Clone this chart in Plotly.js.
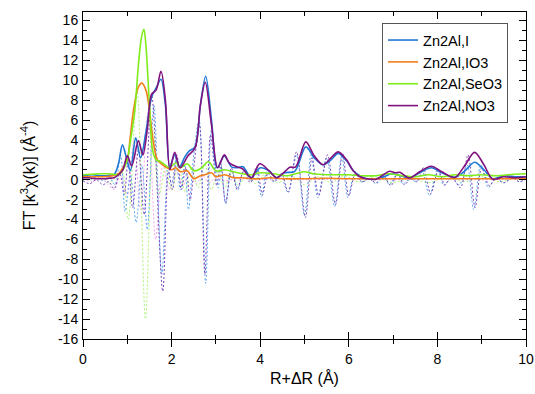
<!DOCTYPE html>
<html><head><meta charset="utf-8">
<script src="https://cdn.plot.ly/plotly-3.0.1.min.js"></script>
<style>html,body{margin:0;padding:0;background:#fff}#c{width:535px;height:394px}</style>
</head><body><div id="c"></div>
<script>
// ---- Data ----
const seriesNames = ["Zn2Al,I", "Zn2Al,IO3", "Zn2Al,SeO3", "Zn2Al,NO3"];

// Magnitudes |FT|
const rI   = [0,0.1,0.2,0.3,0.4,0.5,0.6,0.7,0.8,0.89,0.98,1.07,1.19,1.3,1.42,1.55,1.66,1.76,1.86,1.96,2.07,2.18,2.3,2.4,2.53,2.65,2.77,2.9,3.03,3.19,3.35,3.47,3.61,3.8,4.0,4.2,4.37,4.55,4.78,5.03,5.22,5.42,5.6,5.76,5.95,6.1,6.25,6.4,6.62,6.85,6.95,7.1,7.37,7.6,7.86,8.1,8.39,8.6,8.84,9.05,9.25,9.5,9.75,10];
const magI = [0.4,0.45,0.5,0.45,0.4,0.4,0.45,0.5,1.6,3.5,2.2,0.9,4.2,2.2,4.8,8.3,9.3,10.1,7.5,1.3,2.5,1.3,2.3,2.9,3.3,7.5,10.4,6.0,1.2,2.4,1.3,1.2,1.3,0.2,1.2,0.9,0.2,0.7,0.85,3.3,2.2,1.5,2.0,2.65,1.9,0.9,0.4,0.1,0.1,0.4,0.6,0.5,0.2,0.7,1.2,0.7,0.25,0.8,1.75,1.0,0.1,0.4,0.3,0.3];

const rIO3   = [0,0.2,0.4,0.6,0.8,0.9,1.0,1.06,1.14,1.25,1.33,1.42,1.5,1.58,1.68,1.8,1.9,2.0,2.1,2.2,2.35,2.5,2.65,2.75,2.9,3.0,3.2,3.4,3.6,3.8,4.0,4.2,4.5,5.0,5.5,6.0,6.5,7.0,7.5,8.0,8.5,9.0,9.5,10];
const magIO3 = [0.3,0.3,0.3,0.35,0.6,1.2,2.0,4.0,7.0,9.3,9.7,9.0,7.0,4.0,2.0,1.5,1.2,1.0,1.2,0.8,0.9,0.1,0.4,0.5,0.7,0.3,0.5,0.2,0.2,0.1,0.1,0.2,0.1,0.1,0.15,0.1,0.1,0.1,0.1,0.1,0.1,0.1,0.1,0.1];

const rSeO3   = [0,0.2,0.4,0.6,0.8,0.9,1.0,1.06,1.17,1.25,1.32,1.375,1.42,1.5,1.57,1.65,1.72,1.85,1.95,2.1,2.2,2.35,2.5,2.65,2.83,3.0,3.2,3.4,3.6,3.8,4.0,4.3,4.6,4.8,5.0,5.2,5.5,5.8,6.0,6.3,6.6,6.9,7.2,7.5,7.8,8.1,8.4,8.7,9.0,9.3,9.6,10];
const magSeO3 = [0.5,0.55,0.6,0.6,0.5,1.0,2.0,3.6,7.0,11.5,14.3,15.1,13.5,7.5,3.0,2.0,1.9,1.5,1.2,1.7,1.2,1.6,0.9,1.1,1.8,0.9,1.0,0.8,0.6,0.5,0.7,0.6,0.4,0.6,0.8,0.6,0.5,0.5,0.5,0.4,0.4,0.6,0.4,0.3,0.5,0.3,0.5,0.4,0.5,0.4,0.5,0.6];

const rNO3   = [0,0.1,0.2,0.3,0.4,0.5,0.6,0.7,0.8,0.9,1.0,1.1,1.25,1.35,1.45,1.55,1.65,1.76,1.86,1.96,2.07,2.19,2.37,2.53,2.65,2.76,2.9,3.04,3.19,3.3,3.47,3.6,3.8,3.99,4.2,4.37,4.55,4.67,4.8,5.03,5.22,5.42,5.6,5.76,5.95,6.1,6.25,6.4,6.62,6.78,6.92,7.05,7.15,7.37,7.6,7.86,8.1,8.39,8.6,8.84,9.05,9.25,9.5,9.75,10];
const magNO3 = [0.2,0.2,0.15,0.1,0.1,0.1,0.15,0.2,0.5,1.0,2.4,1.4,3.9,2.5,5.0,8.6,9.0,10.9,8.0,1.0,2.75,1.2,2.4,3.2,7.5,9.8,5.5,1.2,2.5,1.7,1.3,1.1,0.2,1.6,0.9,0.2,0.8,1.25,1.3,3.8,2.4,1.5,2.2,2.8,2.0,0.9,0.3,0.1,0.05,0.5,0.85,0.7,0.75,0.17,0.8,1.35,0.8,0.23,1.3,2.75,1.5,0.05,0.3,0.2,0.3];

// Real parts (dashed)
const rReI  = [0,0.15,0.3,0.45,0.6,0.72,0.85,0.95,1.07,1.2,1.33,1.45,1.6,1.78,1.92,2.0,2.1,2.2,2.3,2.38,2.5,2.62,2.77,2.9,3.05,3.12,3.22,3.35,3.5,3.63,3.8,3.9,4.03,4.15,4.3,4.45,4.63,4.82,5.0,5.15,5.3,5.5,5.68,5.84,5.98,6.14,6.3,6.45,6.62,6.78,6.92,7.08,7.22,7.38,7.52,7.65,7.82,8.0,8.15,8.3,8.5,8.67,8.82,8.98,9.15,9.3,9.5,9.7,9.85,10];
const reI   = [0.2,0.0,0.3,-0.1,0.2,-0.5,2.5,-3.2,0.5,-4.3,1.5,-5.0,7.5,-9.5,1.0,-0.5,2.0,-1.0,1.5,-3.0,2.5,6.0,-10.4,5.0,-0.8,1.5,-2.45,1.0,-1.0,1.0,-0.2,1.0,-1.7,0.8,-0.2,0.5,-1.3,2.5,-3.6,2.5,-1.8,2.2,-2.7,2.4,-1.8,0.8,-0.3,0.1,-0.4,0.3,-0.5,0.5,-0.4,0.1,-0.2,1.0,-1.6,1.0,-0.6,0.2,-0.5,1.5,-3.0,1.5,-0.8,0.1,-0.3,0.2,-0.2,0.1];

const rReNO3 = [0,0.15,0.3,0.45,0.58,0.7,0.83,0.93,1.02,1.12,1.25,1.38,1.55,1.8,1.93,2.02,2.12,2.22,2.32,2.42,2.52,2.63,2.75,2.88,3.02,3.1,3.22,3.35,3.48,3.62,3.78,3.92,4.05,4.18,4.32,4.48,4.63,4.82,5.02,5.17,5.32,5.52,5.7,5.86,6.0,6.15,6.3,6.45,6.62,6.78,6.95,7.1,7.25,7.4,7.55,7.68,7.85,8.02,8.17,8.32,8.52,8.69,8.85,9.0,9.17,9.32,9.5,9.7,9.85,10];
const reNO3  = [-0.1,-0.4,0.0,-0.5,-0.2,-0.9,0.6,-1.5,2.0,-2.8,3.0,-3.5,8.5,-11.2,0.8,-1.0,2.5,-1.0,1.2,-2.0,2.0,5.5,-9.5,4.5,-0.6,1.8,-2.3,1.2,-1.0,0.8,-0.3,1.3,-1.5,0.7,-0.2,0.6,-1.2,2.8,-3.8,2.2,-1.6,2.5,-2.5,2.6,-1.6,0.6,-0.2,0.1,-0.3,0.4,-0.6,0.6,-0.5,0.1,-0.2,1.2,-1.4,0.9,-0.5,0.3,-0.8,2.5,-2.8,1.2,-0.6,0.1,-0.3,0.2,-0.2,0.1];

const rReSeO3 = [0,0.2,0.4,0.6,0.75,0.88,1.02,1.22,1.41,1.58,1.72,1.86,2.0,2.15,2.3,2.45,2.6,2.75,2.9,3.05,3.2,3.35,3.5,3.7,3.9,4.1,4.4,4.7,5.0,5.3,5.6,5.9,6.2,6.6,7.0,7.4,7.8,8.2,8.6,9.0,9.4,9.8,10];
const reSeO3  = [0.3,0.0,0.4,-0.3,0.3,0.8,-4.0,9.0,-14.0,5.0,-1.5,1.2,-1.0,1.5,-1.2,1.2,-0.8,1.5,-1.0,0.8,-0.8,0.7,-0.6,0.5,-0.4,0.5,-0.3,0.4,-0.5,0.3,-0.3,0.4,-0.2,0.3,-0.3,0.2,-0.3,0.3,-0.2,0.3,-0.2,0.3,0.2];

const rReIO3 = [0,0.2,0.4,0.55,0.7,0.85,1.0,1.15,1.3,1.47,1.64,1.8,1.95,2.1,2.25,2.4,2.55,2.7,2.85,3.0,3.2,3.5,4.0,4.5,5.0,6.0,7.0,8.0,9.0,10];
const reIO3  = [0.1,-0.2,0.2,-0.4,-1.0,0.5,-1.5,4.0,-3.0,7.0,-6.0,1.5,-1.0,1.0,-0.6,0.6,-0.4,0.4,-0.3,0.2,-0.1,0.1,0.0,0.1,0.0,0.1,0.0,0.1,0.0,0.1];

// Axis ticks
const xTicks = [0,2,4,6,8,10];
const yTicks = [-16,-14,-12,-10,-8,-6,-4,-2,0,2,4,6,8,10,12,14,16];

// ---- Styles ----
const solidColors = ["#1f78d6", "#f27f1b", "#7fec1a", "#80117f"];
const dashColors  = ["#5aa6f2", "#f3a6f0", "#aef27a", "#7a46b8"];

const traces = [
  {x:rReIO3, y:reIO3, c:dashColors[1]},
  {x:rReSeO3, y:reSeO3, c:dashColors[2]},
  {x:rReI, y:reI, c:dashColors[0]},
  {x:rReNO3, y:reNO3, c:dashColors[3]},
].map(d => ({type:'scatter', mode:'lines', x:d.x, y:d.y, showlegend:false, hoverinfo:'skip',
  line:{color:d.c, width:1, dash:'2px,2px', shape:'spline', smoothing:0.9}}));

const solids = [[rI,magI],[rIO3,magIO3],[rSeO3,magSeO3],[rNO3,magNO3]];
solids.forEach((s,i) => traces.push({type:'scatter', mode:'lines', x:s[0], y:s[1], name:seriesNames[i],
  line:{color:solidColors[i], width:1.6, shape:'spline', smoothing:0.9}}));

const font = {family:'"Liberation Sans", Arial, sans-serif', color:'#000'};
const layout = {
  width:535, height:394,
  margin:{l:83, r:9, t:12, b:55, pad:0},
  paper_bgcolor:'#fff', plot_bgcolor:'#fff',
  font:Object.assign({size:14}, font),
  showlegend:true,
  legend:{x:0.675, y:0.966, xanchor:'left', yanchor:'top', bgcolor:'#fff', bordercolor:'#555', borderwidth:1,
    font:Object.assign({size:14.5}, font), traceorder:'normal', itemwidth:30, tracegroupgap:0},
  xaxis:{range:[0,10], tickvals:xTicks, ticktext:xTicks.map(String), ticks:'outside', ticklen:7, tickwidth:1, tickcolor:'#000',
    minor:{dtick:1, ticks:'outside', ticklen:4, tickwidth:1, tickcolor:'#000', showgrid:false},
    showline:true, linecolor:'#000', linewidth:1, mirror:true, showgrid:false, zeroline:false,
    tickfont:Object.assign({size:14}, font),
    title:{text:'R+ΔR (Å)', font:Object.assign({size:16}, font), standoff:7}},
  xaxis2:{range:[0,10], overlaying:'x', anchor:'y', side:'bottom', tickvals:xTicks, showticklabels:false,
    ticks:'inside', ticklen:7, tickwidth:1, tickcolor:'#000', mirror:'ticks',
    minor:{dtick:1, ticks:'inside', ticklen:4, tickwidth:1, tickcolor:'#000', showgrid:false},
    showline:false, showgrid:false, zeroline:false},
  yaxis:{range:[-16,16.85], tickvals:yTicks, ticktext:yTicks.map(String), ticks:'inside', ticklen:7, tickwidth:1, tickcolor:'#000',
    minor:{dtick:1, ticks:'inside', ticklen:4, tickwidth:1, tickcolor:'#000', showgrid:false},
    showline:true, linecolor:'#000', linewidth:1, mirror:'ticks', showgrid:false, zeroline:false,
    tickfont:Object.assign({size:14}, font), ticklabelstandoff:1,
    title:{text:'FT [k<sup>3</sup>χ(k)] (Å<sup>-4</sup>)', font:Object.assign({size:16}, font), standoff:18}}
};
// attach an empty trace to the overlay axis so its inside ticks are drawn
traces.push({type:'scatter', mode:'lines', x:[], y:[], xaxis:'x2', yaxis:'y', showlegend:false, hoverinfo:'skip'});

Plotly.newPlot('c', traces, layout, {staticPlot:true, displayModeBar:false});
</script>
</body></html>
